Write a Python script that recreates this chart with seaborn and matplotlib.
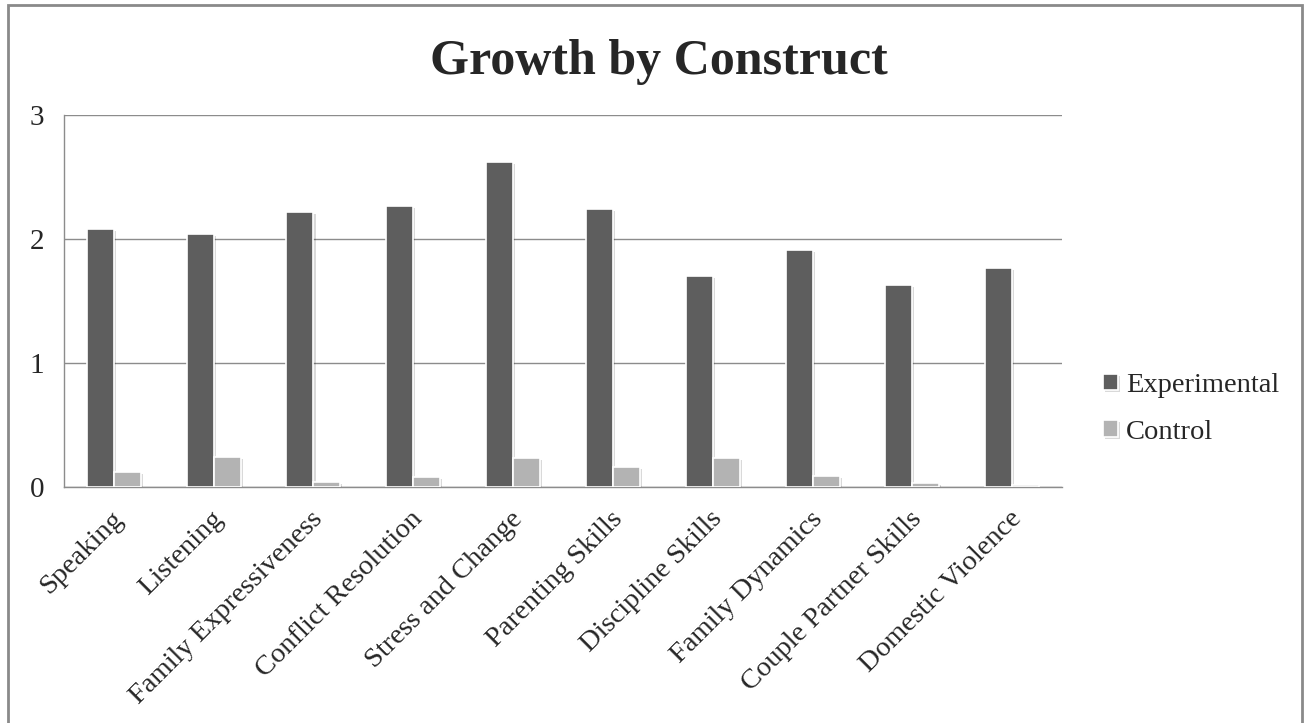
import matplotlib
matplotlib.use("Agg")
import matplotlib.pyplot as plt
import matplotlib.patheffects as pe
from matplotlib.patches import Rectangle
import seaborn as sns
import pandas as pd

categories = ["Speaking", "Listening", "Family Expressiveness", "Conflict Resolution",
              "Stress and Change", "Parenting Skills", "Discipline Skills",
              "Family Dynamics", "Couple Partner Skills", "Domestic Violence"]
experimental = [2.08, 2.04, 2.22, 2.27, 2.62, 2.24, 1.70, 1.91, 1.63, 1.77]
control = [0.12, 0.245, 0.04, 0.08, 0.235, 0.16, 0.235, 0.09, 0.035, 0.015]
series_names = ["Experimental", "Control"]
y_ticks = [0, 1, 2, 3]

df = pd.DataFrame({
    "Construct": categories * 2,
    "Value": experimental + control,
    "Group": [series_names[0]] * len(categories) + [series_names[1]] * len(categories),
})

sns.set_style("white")
plt.rcParams["font.family"] = ["Liberation Serif", "DejaVu Serif"]

fig = plt.figure(figsize=(13.04, 7.23), dpi=100)
ax = fig.add_axes([0.049, 0.3264, 0.7655, 0.5145])

palette = {"Experimental": "#5e5e5e", "Control": "#b3b3b3"}
sns.barplot(data=df, x="Construct", y="Value", hue="Group", order=categories,
            hue_order=series_names, palette=palette, width=0.54, gap=0,
            edgecolor="white", linewidth=1.2, saturation=1, ax=ax, zorder=3)

for p in ax.patches:
    p.set_path_effects([pe.SimplePatchShadow(offset=(1.5, -1.5), shadow_rgbFace="#000000", alpha=0.15), pe.Normal()])

ax.set_ylim(0, 3)
ax.set_xlim(-0.5, len(categories) - 0.5)
ax.set_yticks(y_ticks)
ax.set_yticklabels([str(t) for t in y_ticks], fontsize=21)
ax.yaxis.grid(True, color="#8c8c8c", linewidth=1.0, zorder=0)
ax.set_axisbelow(True)
ax.tick_params(axis="y", length=0, pad=14)
ax.tick_params(axis="x", length=0, pad=4)
ax.set_xticks(range(len(categories)))
ax.set_xticklabels(categories, rotation=45, ha="right", rotation_mode="anchor", fontsize=20.5)
for lbl in ax.get_xticklabels():
    lbl.set_transform(lbl.get_transform() + matplotlib.transforms.ScaledTranslation(-0.03, -0.14, fig.dpi_scale_trans))
ax.set_xlabel("")
ax.set_ylabel("")
for s in ["top", "right"]:
    ax.spines[s].set_visible(False)
for s in ["left", "bottom"]:
    ax.spines[s].set_color("#8c8c8c")
    ax.spines[s].set_linewidth(1.0)

handles, labels = ax.get_legend_handles_labels()
ax.legend(handles, labels, loc="center left", bbox_to_anchor=(1.027, 0.21), frameon=False,
          fontsize=20.5, handlelength=0.5, handleheight=0.5, handletextpad=0.3, labelspacing=0.75,
          borderpad=0)

fig.text(0.505, 0.914, "Growth by Construct", ha="center", va="center", fontsize=36,
         fontweight="bold")

fig.patches.append(Rectangle((8 / 1304, -0.02), (1302 - 8) / 1304, 1 - 5 / 723 + 0.02,
                             transform=fig.transFigure, fill=False, edgecolor="#8a8a8a",
                             linewidth=2, zorder=10))

fig.savefig("out.png", dpi=100)
